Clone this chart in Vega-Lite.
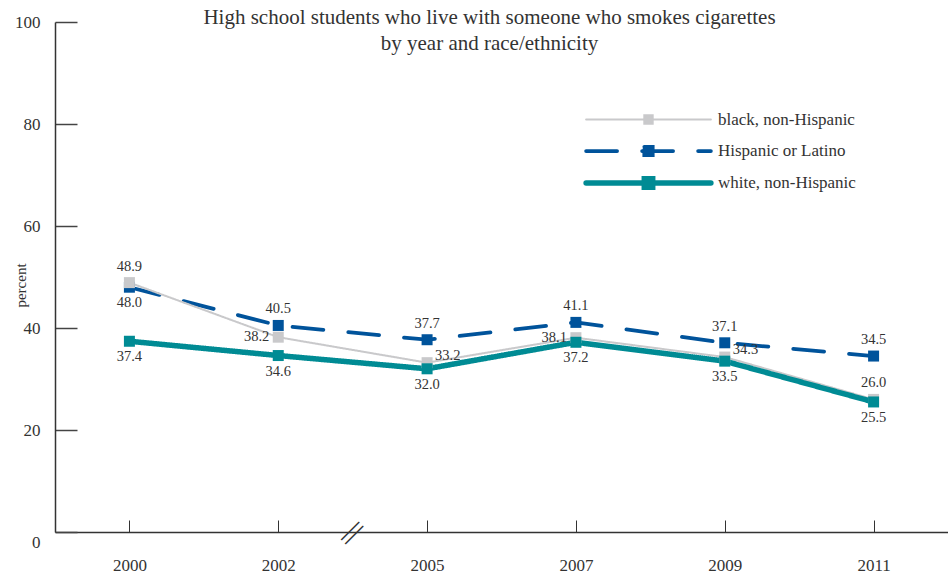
{
  "$schema": "https://vega.github.io/schema/vega-lite/v6.json",
  "width": 893,
  "height": 510,
  "autosize": "none",
  "padding": {"left": 55, "top": 22, "right": 0, "bottom": 44},
  "background": "white",
  "config": {"view": {"stroke": null}, "font": "Liberation Serif"},
  "title": {
    "text": ["High school students who live with someone who smokes cigarettes", "by year and race/ethnicity"],
    "fontSize": 21, "fontWeight": "normal", "color": "#333333", "font": "Liberation Serif",
    "anchor": "middle", "offset": -41, "lineHeight": 26, "dx": -12
  },
  "data": {"values": [
    {"year": "2000", "series": "Hispanic or Latino", "value": 48.0},
    {"year": "2002", "series": "Hispanic or Latino", "value": 40.5},
    {"year": "2005", "series": "Hispanic or Latino", "value": 37.7},
    {"year": "2007", "series": "Hispanic or Latino", "value": 41.1},
    {"year": "2009", "series": "Hispanic or Latino", "value": 37.1},
    {"year": "2011", "series": "Hispanic or Latino", "value": 34.5},
    {"year": "2000", "series": "black, non-Hispanic", "value": 48.9},
    {"year": "2002", "series": "black, non-Hispanic", "value": 38.2},
    {"year": "2005", "series": "black, non-Hispanic", "value": 33.2},
    {"year": "2007", "series": "black, non-Hispanic", "value": 38.1},
    {"year": "2009", "series": "black, non-Hispanic", "value": 34.3},
    {"year": "2011", "series": "black, non-Hispanic", "value": 26.0},
    {"year": "2000", "series": "white, non-Hispanic", "value": 37.4},
    {"year": "2002", "series": "white, non-Hispanic", "value": 34.6},
    {"year": "2005", "series": "white, non-Hispanic", "value": 32.0},
    {"year": "2007", "series": "white, non-Hispanic", "value": 37.2},
    {"year": "2009", "series": "white, non-Hispanic", "value": 33.5},
    {"year": "2011", "series": "white, non-Hispanic", "value": 25.5}
  ]},
  "encoding": {
    "x": {
      "field": "year", "type": "ordinal",
      "scale": {"type": "point", "padding": 0.5},
      "axis": {
        "title": null, "labelAngle": 0, "grid": false,
        "tickSize": -12, "tickColor": "#333333", "tickWidth": 1,
        "domainColor": "#333333", "domainWidth": 1.5,
        "labelFont": "Liberation Serif", "labelFontSize": 17, "labelColor": "#333333",
        "labelPadding": 37
      }
    },
    "y": {
      "field": "value", "type": "quantitative",
      "scale": {"domain": [0, 100], "nice": false},
      "axis": {
        "title": "percent", "titleFont": "Liberation Serif", "titleFontSize": 15,
        "titleFontWeight": "normal", "titleColor": "#333333",
        "titleX": -35, "titleY": 263, "titleAlign": "center", "titleBaseline": "middle",
        "values": [0, 20, 40, 60, 80, 100], "grid": false,
        "tickSize": -22, "tickColor": "#444444", "tickWidth": 1.5,
        "domainColor": "#333333", "domainWidth": 1.5,
        "labelFont": "Liberation Serif", "labelFontSize": 17, "labelColor": "#333333",
        "labelPadding": 37,
        "labelOffset": {"condition": {"test": "datum.value === 0", "value": 10}, "value": 0}
      }
    }
  },
  "layer": [
    {
      "mark": {"type": "line", "strokeCap": "round", "strokeJoin": "round"},
      "encoding": {
        "color": {
          "field": "series", "type": "nominal",
          "scale": {"domain": ["black, non-Hispanic", "Hispanic or Latino", "white, non-Hispanic"], "range": ["#c9c9cb", "#00539b", "#008b94"]},
          "legend": {
            "orient": "none", "legendX": 584.5, "legendY": 89, "title": null,
            "symbolType": "M-10.4,0H10.4M-0.7,-0.7H0.7V0.7H-0.7Z", "symbolSize": 144,
            "labelFont": "Liberation Serif", "labelFontSize": 17, "labelColor": "#333333",
            "labelOffset": 60.5, "rowPadding": -0.5, "padding": 0, "gridAlign": "all",
            "encode": {"symbols": {"update": {"fill": {"scale": "color", "field": "value"}, "strokeCap": {"value": "round"}}}}
          }
        },
        "strokeDash": {
          "field": "series", "type": "nominal",
          "scale": {"domain": ["black, non-Hispanic", "Hispanic or Latino", "white, non-Hispanic"], "range": [[1, 0], [31, 25], [1, 0]]}
        },
        "strokeWidth": {
          "field": "series", "type": "nominal",
          "scale": {"domain": ["black, non-Hispanic", "Hispanic or Latino", "white, non-Hispanic"], "range": [2, 5.5, 4]}
        }
      }
    },
    {
      "mark": {"type": "point", "shape": "square", "filled": true, "size": 121, "opacity": 1},
      "encoding": {
        "color": {
          "field": "series", "type": "nominal",
          "scale": {"domain": ["black, non-Hispanic", "Hispanic or Latino", "white, non-Hispanic"], "range": ["#c9c9cb", "#00539b", "#008b94"]},
          "legend": null
        }
      }
    },
    {
      "transform": [{"filter": "(datum.series === 'Hispanic or Latino' && datum.year !== '2000') || (datum.series === 'black, non-Hispanic' && (datum.year === '2000' || datum.year === '2011'))"}],
      "mark": {"type": "text", "dy": -16, "fontSize": 14.5, "font": "Liberation Serif", "color": "#333333", "baseline": "middle"},
      "encoding": {"text": {"field": "value", "type": "quantitative", "format": ".1f"}}
    },
    {
      "transform": [{"filter": "datum.series === 'white, non-Hispanic' || (datum.series === 'Hispanic or Latino' && datum.year === '2000')"}],
      "mark": {"type": "text", "dy": 16, "fontSize": 14.5, "font": "Liberation Serif", "color": "#333333", "baseline": "middle"},
      "encoding": {"text": {"field": "value", "type": "quantitative", "format": ".1f"}}
    },
    {
      "transform": [{"filter": "datum.series === 'black, non-Hispanic' && (datum.year === '2002' || datum.year === '2007')"}],
      "mark": {"type": "text", "dx": -9, "dy": 0, "align": "right", "fontSize": 14.5, "font": "Liberation Serif", "color": "#333333", "baseline": "middle"},
      "encoding": {"text": {"field": "value", "type": "quantitative", "format": ".1f"}}
    },
    {
      "transform": [{"filter": "datum.series === 'black, non-Hispanic' && (datum.year === '2005' || datum.year === '2009')"}],
      "mark": {"type": "text", "dx": 8, "dy": -7, "align": "left", "fontSize": 14.5, "font": "Liberation Serif", "color": "#333333", "baseline": "middle"},
      "encoding": {"text": {"field": "value", "type": "quantitative", "format": ".1f"}}
    },
    {
      "transform": [{"filter": "datum.series === 'black, non-Hispanic' && datum.year === '2002'"}],
      "mark": {"type": "text", "dx": 53, "dy": -53, "angle": 45, "fontSize": 28, "font": "Liberation Serif", "color": "#333333", "baseline": "middle", "align": "center"},
      "encoding": {"text": {"value": "||"}, "y": {"datum": 0}}
    }
  ]
}
